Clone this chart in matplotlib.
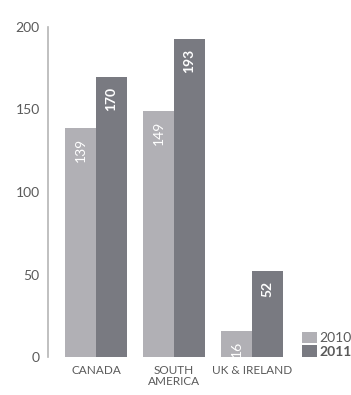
import numpy as np
import matplotlib
matplotlib.use('Agg')
import matplotlib.pyplot as plt

regions = ['CANADA', 'SOUTH\nAMERICA', 'UK & IRELAND']
vals_2010 = [139, 149, 16]
vals_2011 = [170, 193, 52]
yticks = [0, 50, 100, 150, 200]

light = '#b1b0b5'
dark = '#797a81'
textgrey = '#5a5a5a'

plt.rcParams['font.family'] = ['Lato', 'DejaVu Sans']

fig = plt.figure(figsize=(3.51, 3.95), dpi=100)
ax = fig.add_axes([48 / 351, 1 - 357 / 395, 252 / 351, 330 / 395])

x = np.arange(len(regions))
w = 0.397
b1 = ax.bar(x - w / 2, vals_2010, w, color=light, label='2010')
b2 = ax.bar(x + w / 2, vals_2011, w, color=dark, label='2011')

# value labels sit inside the top of each bar, rotated
for rect, v in zip(b1, vals_2010):
    ax.text(rect.get_x() + rect.get_width() / 2, v - 6, str(v), rotation=90,
            ha='center', va='top', color='white', fontsize=10)
for rect, v in zip(b2, vals_2011):
    ax.text(rect.get_x() + rect.get_width() / 2, v - 6, str(v), rotation=90,
            ha='center', va='top', color='white', fontsize=10, fontweight='bold')

ax.set_xlim(-0.615, 2.615)
ax.set_ylim(0, 200)
ax.set_yticks(yticks)
ax.set_xticks(x)
ax.set_xticklabels(regions, fontsize=8.5, color=textgrey, linespacing=1.0)
ax.tick_params(axis='y', length=0, pad=6, labelsize=10, labelcolor=textgrey)
ax.tick_params(axis='x', length=0, pad=6)

for s in ['top', 'right', 'bottom']:
    ax.spines[s].set_visible(False)
ax.spines['left'].set_color('#b5b5b5')
ax.spines['left'].set_linewidth(1.2)

leg = fig.legend(handles=[b1, b2], labels=['2010', '2011'], loc='lower left',
                 bbox_to_anchor=(302 / 351, 1 - 358 / 395), frameon=False,
                 borderpad=0, borderaxespad=0,
                 handlelength=1.1, handleheight=0.9, handletextpad=0.15,
                 labelspacing=0.1, fontsize=10)
for t in leg.get_texts():
    t.set_color(textgrey)
leg.get_texts()[1].set_fontweight('bold')

fig.savefig('out.png', dpi=100)
